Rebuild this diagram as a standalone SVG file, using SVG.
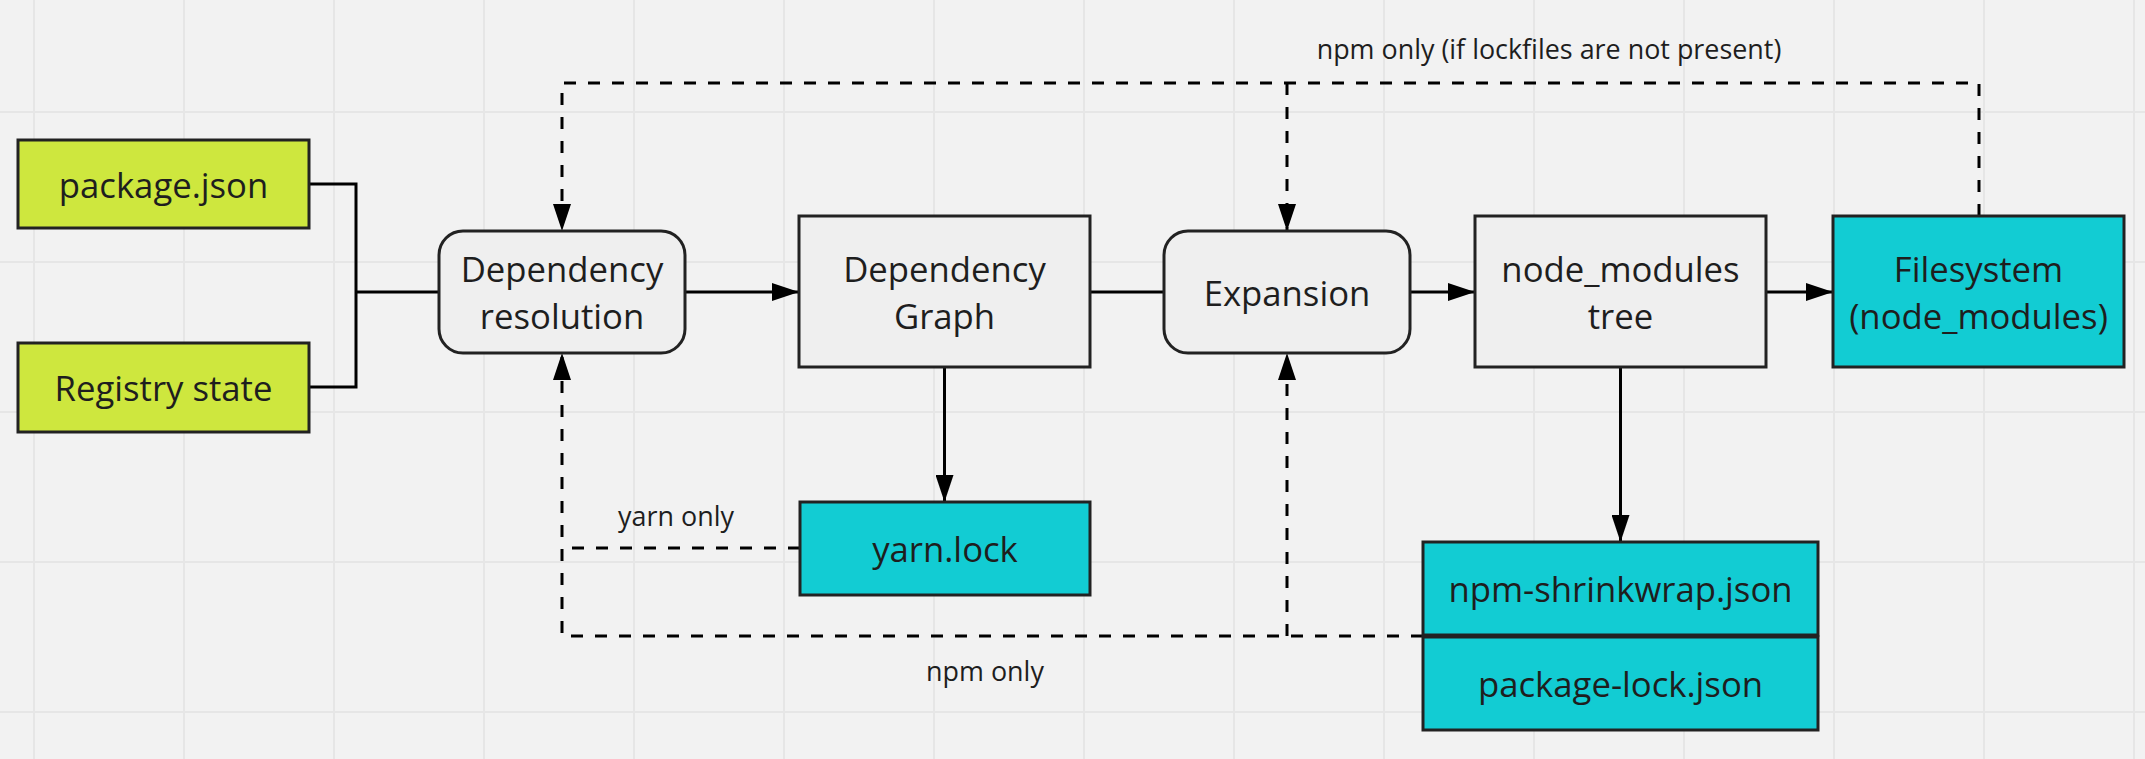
<svg xmlns="http://www.w3.org/2000/svg" width="2145" height="759" viewBox="0 0 2145 759">
<style>
.bg{fill:#f2f2f2}
.grid line{stroke:#e6e6e6;stroke-width:2}
.box{stroke:#222;stroke-width:3}
.g{fill:#cee73e}
.c{fill:#12ccd3}
.w{fill:#efefef}
.t{font-family:"Open Sans","Noto Sans","Liberation Sans",sans-serif;font-size:34.7px;fill:#1e1e1e;text-anchor:middle}
.l{font-family:"Open Sans","Noto Sans","Liberation Sans",sans-serif;font-size:26.9px;fill:#1e1e1e;text-anchor:middle}
.s{fill:none;stroke:#000;stroke-width:3}
.d{fill:none;stroke:#000;stroke-width:3;stroke-dasharray:12 12}
</style>
<defs>
<marker id="ah" markerUnits="userSpaceOnUse" markerWidth="27" markerHeight="18" refX="27" refY="9" orient="auto">
<path d="M0,0 L27,9 L0,18 Z" fill="#000"/>
</marker>
</defs>
<rect class="bg" x="0" y="0" width="2145" height="759"/>
<g class="grid">
<line x1="34" y1="0" x2="34" y2="759"/><line x1="184" y1="0" x2="184" y2="759"/><line x1="334" y1="0" x2="334" y2="759"/><line x1="484" y1="0" x2="484" y2="759"/><line x1="634" y1="0" x2="634" y2="759"/><line x1="784" y1="0" x2="784" y2="759"/><line x1="934" y1="0" x2="934" y2="759"/><line x1="1084" y1="0" x2="1084" y2="759"/><line x1="1234" y1="0" x2="1234" y2="759"/><line x1="1384" y1="0" x2="1384" y2="759"/><line x1="1534" y1="0" x2="1534" y2="759"/><line x1="1684" y1="0" x2="1684" y2="759"/><line x1="1834" y1="0" x2="1834" y2="759"/><line x1="1984" y1="0" x2="1984" y2="759"/><line x1="2134" y1="0" x2="2134" y2="759"/>
<line x1="0" y1="112" x2="2145" y2="112"/><line x1="0" y1="262" x2="2145" y2="262"/><line x1="0" y1="412" x2="2145" y2="412"/><line x1="0" y1="562" x2="2145" y2="562"/><line x1="0" y1="712" x2="2145" y2="712"/>
</g>
<g id="connectors">
<polyline class="s" points="309,184 356,184 356,387 309,387"/>
<line class="s" x1="356" y1="292" x2="439" y2="292"/>
<line class="s" x1="685" y1="292" x2="799" y2="292" marker-end="url(#ah)"/>
<line class="s" x1="1090" y1="292" x2="1164" y2="292"/>
<line class="s" x1="1410" y1="292" x2="1475" y2="292" marker-end="url(#ah)"/>
<line class="s" x1="1766" y1="292" x2="1833" y2="292" marker-end="url(#ah)"/>
<line class="s" x1="944.5" y1="367" x2="944.5" y2="502" marker-end="url(#ah)"/>
<line class="s" x1="1620.5" y1="367" x2="1620.5" y2="542" marker-end="url(#ah)"/>
<polyline class="d" points="1979,216 1979,83 562,83 562,231" marker-end="url(#ah)"/>
<line class="d" x1="1287" y1="83" x2="1287" y2="231" marker-end="url(#ah)"/>
<polyline class="d" points="800,548 562,548"/>
<polyline class="d" points="1423,636 562,636 562,353" marker-end="url(#ah)"/>
<line class="d" x1="1287" y1="636" x2="1287" y2="353" marker-end="url(#ah)"/>
<text class="l" x="1549" y="59">npm only (if lockfiles are not present)</text>
<text class="l" x="676" y="526">yarn only</text>
<text class="l" x="985" y="681">npm only</text>
</g>
<g id="package-json"><rect class="box g" x="18" y="140" width="291" height="88"/><text class="t" x="163.5" y="198">package.json</text></g>
<g id="registry-state"><rect class="box g" x="18" y="343" width="291" height="89"/><text class="t" x="163.5" y="401">Registry state</text></g>
<g id="dependency-resolution"><rect class="box w" x="439" y="231" width="246" height="122" rx="24"/><text class="t" x="562" y="282">Dependency</text><text class="t" x="562" y="329">resolution</text></g>
<g id="dependency-graph"><rect class="box w" x="799" y="216" width="291" height="151"/><text class="t" x="944.5" y="282">Dependency</text><text class="t" x="944.5" y="329">Graph</text></g>
<g id="expansion"><rect class="box w" x="1164" y="231" width="246" height="122" rx="24"/><text class="t" x="1287" y="306">Expansion</text></g>
<g id="node-modules-tree"><rect class="box w" x="1475" y="216" width="291" height="151"/><text class="t" x="1620.5" y="282">node_modules</text><text class="t" x="1620.5" y="329">tree</text></g>
<g id="filesystem"><rect class="box c" x="1833" y="216" width="291" height="151"/><text class="t" x="1978.5" y="282">Filesystem</text><text class="t" x="1978.5" y="329">(node_modules)</text></g>
<g id="yarn-lock"><rect class="box c" x="800" y="502" width="290" height="93"/><text class="t" x="945" y="562">yarn.lock</text></g>
<g id="npm-shrinkwrap"><rect class="box c" x="1423" y="542" width="395" height="93"/><text class="t" x="1620.5" y="602">npm-shrinkwrap.json</text></g>
<g id="package-lock"><rect class="box c" x="1423" y="637" width="395" height="93"/><text class="t" x="1620.5" y="697">package-lock.json</text></g>
</svg>
